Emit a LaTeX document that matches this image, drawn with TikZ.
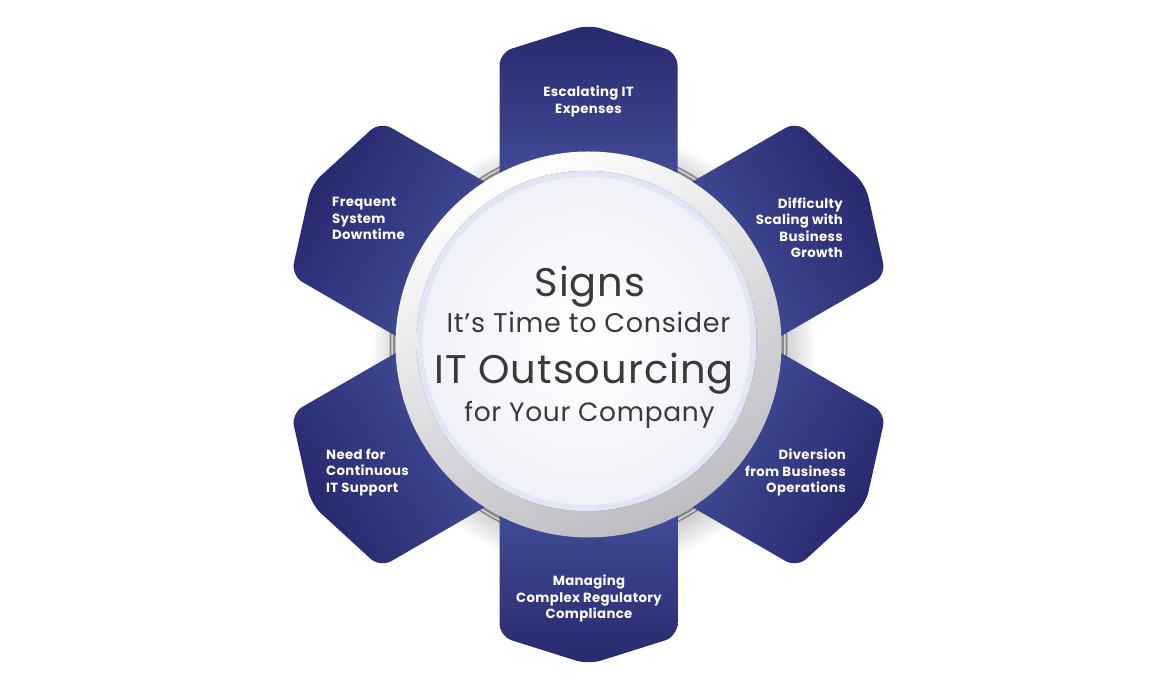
\documentclass[tikz,border=0pt]{standalone}
\usepackage{fontspec}
\setmainfont{Poppins}
\newfontfamily\ttlfont{Poppins}[LetterSpace=2.5]
\newfontfamily\labfont{Poppins}[LetterSpace=2.5]
\usetikzlibrary{calc}
\definecolor{petaldark}{RGB}{40,41,110}
\definecolor{petallight}{RGB}{76,91,168}
\definecolor{ringgray}{RGB}{135,135,138}
\definecolor{disclav}{RGB}{226,229,243}
\definecolor{discfill}{RGB}{240,241,249}
\definecolor{titlegray}{RGB}{58,58,58}
\definecolor{discedge}{RGB}{188,188,194}
\begin{document}
\begin{tikzpicture}[x=1pt,y=1pt,
  petal/.style={top color=petaldark, bottom color=petallight, rounded corners=13pt},
  lab/.style={text=white, font=\labfont\bfseries\fontsize{13.3}{16.5}\selectfont, inner sep=0pt},
  ttl/.style={text=titlegray, inner sep=0pt, anchor=base}]
\useasboundingbox (0,0) rectangle (1170,700);
\coordinate (C) at (588.5,355.5);
% soft shadow
\foreach \i in {0,...,9} \fill[black, opacity=0.02] ($(C)+(5,-6)$) circle ({194+3*\i});
% grey ring
\draw[ringgray, line width=6pt] (C) circle (196);
\draw[ringgray!35, line width=1.5pt] (C) circle (196.5);
% petals
\foreach \a/\s in {90/0,30/-60,-30/-120,-90/180,210/120,150/60}{
  \shade[petal, shading angle=\s]
    ($(C)+(\a:100)+(\a-90:89)$) -- ($(C)+(\a:292)+(\a-90:89)$) -- ($(C)+(\a:320)$)
    -- ($(C)+(\a:292)+(\a+90:89)$) -- ($(C)+(\a:100)+(\a+90:89)$) -- cycle;
}
% outer white disc
\shade[top color=white, middle color=white!94!black, bottom color=discedge, shading angle=25] (C) circle (193);
% inner disc
\coordinate (C2) at ($(C)+(-2,3.5)$);
\fill[inner color=white, outer color=discfill] (C2) circle (170);
\draw[disclav, line width=6pt] (C2) circle (167);
% titles
\node[ttl, font=\ttlfont\fontsize{40}{40}\selectfont] (t1) at (590,403) {Signs};
\node[ttl, font=\ttlfont\fontsize{27}{27}\selectfont] (t2) at (588.5,367) {It’s Time to Consider};
\node[ttl, font=\ttlfont\fontsize{40}{40}\selectfont] (t3) at (584,316) {IT Outsourcing};
\node[ttl, font=\ttlfont\fontsize{26.5}{26.5}\selectfont] (t4) at (589.5,278) {for Your Company};
% labels
\node[lab, align=center] (l1) at (588.5,598.5) {Escalating IT\\Expenses};
\node[lab, align=right, anchor=east] (l2) at (843,472.5) {Difficulty\\Scaling with\hspace*{4pt}\\Business\hspace*{4pt}\\Growth};
\node[lab, align=right, anchor=east] (l3) at (846,227.5) {Diversion\\from Business\\Operations};
\node[lab, align=center] (l4) at (589,101.5) {Managing\\Complex Regulatory\\Compliance};
\node[lab, align=left, anchor=west] (l5) at (326,227.5) {Need for\\Continuous\\IT Support};
\node[lab, align=left, anchor=west] (l6) at (332,481.5) {Frequent\\System\\Downtime};
\end{tikzpicture}
\end{document}
